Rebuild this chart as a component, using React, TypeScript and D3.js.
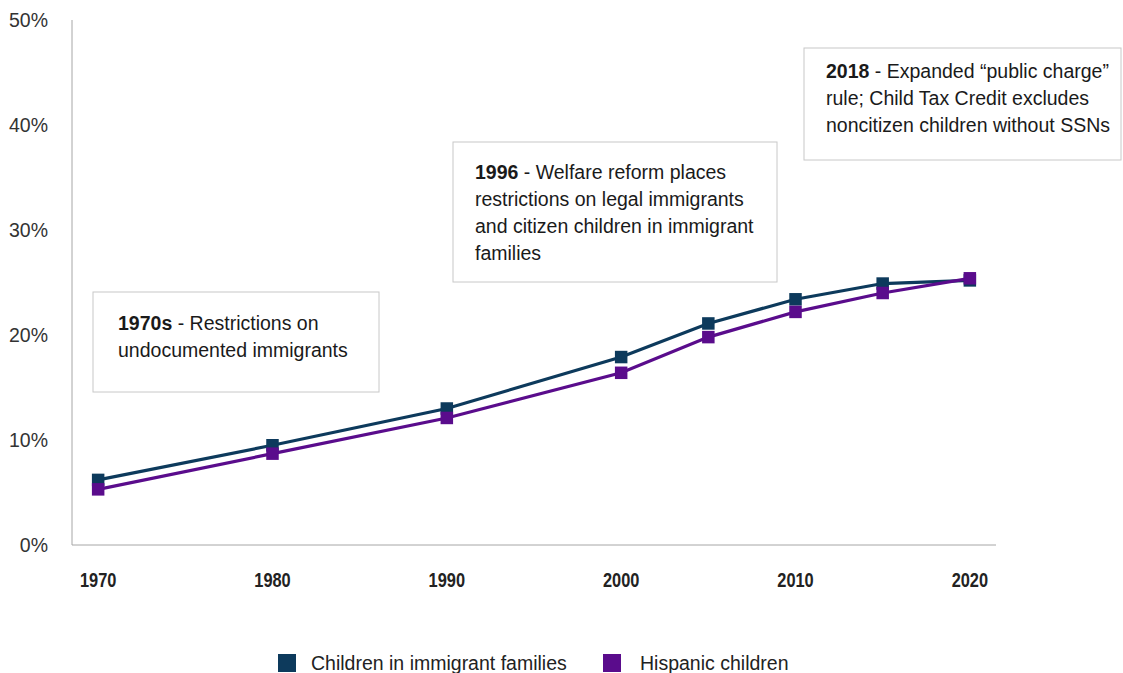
import React from "react";
import * as d3 from "d3";

const years = [1970, 1980, 1990, 2000, 2005, 2010, 2015, 2020];
const immigrantChildren = [6.2, 9.5, 13.0, 17.9, 21.1, 23.4, 24.9, 25.2];
const hispanicChildren = [5.3, 8.7, 12.1, 16.4, 19.8, 22.2, 24.0, 25.4];
const xTickYears = [1970, 1980, 1990, 2000, 2010, 2020];
const yTicks = [0, 10, 20, 30, 40, 50];
const seriesNames = ["Children in immigrant families", "Hispanic children"];

const annotations = [
  { bold: "1970s", lines: [" - Restrictions on", "undocumented immigrants"] },
  { bold: "1996", lines: [" - Welfare reform places", "restrictions on legal immigrants", "and citizen children in immigrant", "families"] },
  { bold: "2018", lines: [" - Expanded \u201cpublic charge\u201d", "rule; Child Tax Credit excludes", "noncitizen children without SSNs"] },
];

const W = 1123;
const H = 673;
const NAVY = "#0d3a5c";
const PURPLE = "#5a0c8c";
const FONT = "'Liberation Sans', Arial, sans-serif";
const FS = 19.5;

export default function App() {
  const x = d3.scaleLinear().domain([1968.5, 2021.5]).range([72, 996]);
  const y = d3.scaleLinear().domain([0, 50]).range([545, 20]);
  const line = d3
    .line<[number, number]>()
    .x((d) => x(d[0]))
    .y((d) => y(d[1]));

  const series = [
    { name: seriesNames[0], color: NAVY, values: immigrantChildren },
    { name: seriesNames[1], color: PURPLE, values: hispanicChildren },
  ];

  const boxes = [
    { x: 93, y: 292, w: 286, h: 100, tx: 118, ty: 330 },
    { x: 453, y: 142, w: 324, h: 140, tx: 475, ty: 179 },
    { x: 804, y: 48, w: 317, h: 112, tx: 826, ty: 78 },
  ];
  const lineH = 27;
  const ms = 12.5;

  return (
    <svg
      width={W}
      height={H}
      style={{ position: "absolute", left: 0, top: 0, display: "block", background: "#fff" }}
      fontFamily={FONT}
    >
      {/* axes */}
      <line x1={72} x2={72} y1={20} y2={545} stroke="#a6a6a6" strokeWidth={1} />
      <line x1={72} x2={996} y1={545} y2={545} stroke="#a6a6a6" strokeWidth={1} />
      {yTicks.map((t) => (
        <text key={t} x={48} y={y(t)} dy="0.35em" textAnchor="end" fontSize={FS} fill="#333">
          {t}%
        </text>
      ))}
      {xTickYears.map((t) => (
        <text
          key={t}
          transform={`translate(${x(t)},580) scale(0.82,1)`}
          dy="0.35em"
          textAnchor="middle"
          fontSize={20}
          fontWeight="bold"
          fill="#222"
        >
          {t}
        </text>
      ))}

      {/* annotation boxes */}
      {annotations.map((a, i) => {
        const b = boxes[i];
        return (
          <g key={i}>
            <rect x={b.x} y={b.y} width={b.w} height={b.h} fill="#fff" stroke="#c8c8c8" strokeWidth={1} />
            <text x={b.tx} y={b.ty} fontSize={FS} fill="#1a1a1a">
              <tspan fontWeight="bold">{a.bold}</tspan>
              <tspan>{a.lines[0]}</tspan>
              {a.lines.slice(1).map((l, j) => (
                <tspan key={j} x={b.tx} y={b.ty + lineH * (j + 1)}>
                  {l}
                </tspan>
              ))}
            </text>
          </g>
        );
      })}

      {/* series */}
      {series.map((s) => {
        const pts = years.map((yr, i) => [yr, s.values[i]] as [number, number]);
        return (
          <g key={s.name}>
            <path d={line(pts) || ""} fill="none" stroke={s.color} strokeWidth={3.2} />
            {pts.map((p, i) => (
              <rect key={i} x={x(p[0]) - ms / 2} y={y(p[1]) - ms / 2} width={ms} height={ms} fill={s.color} />
            ))}
          </g>
        );
      })}

      {/* legend */}
      {series.map((s, i) => {
        const lx = [278, 603][i];
        return (
          <g key={s.name}>
            <rect x={lx} y={654} width={18} height={18} fill={s.color} />
            <text x={lx + (i === 0 ? 33 : 37)} y={663} dy="0.35em" fontSize={FS} fill="#222">
              {s.name}
            </text>
          </g>
        );
      })}
    </svg>
  );
}
